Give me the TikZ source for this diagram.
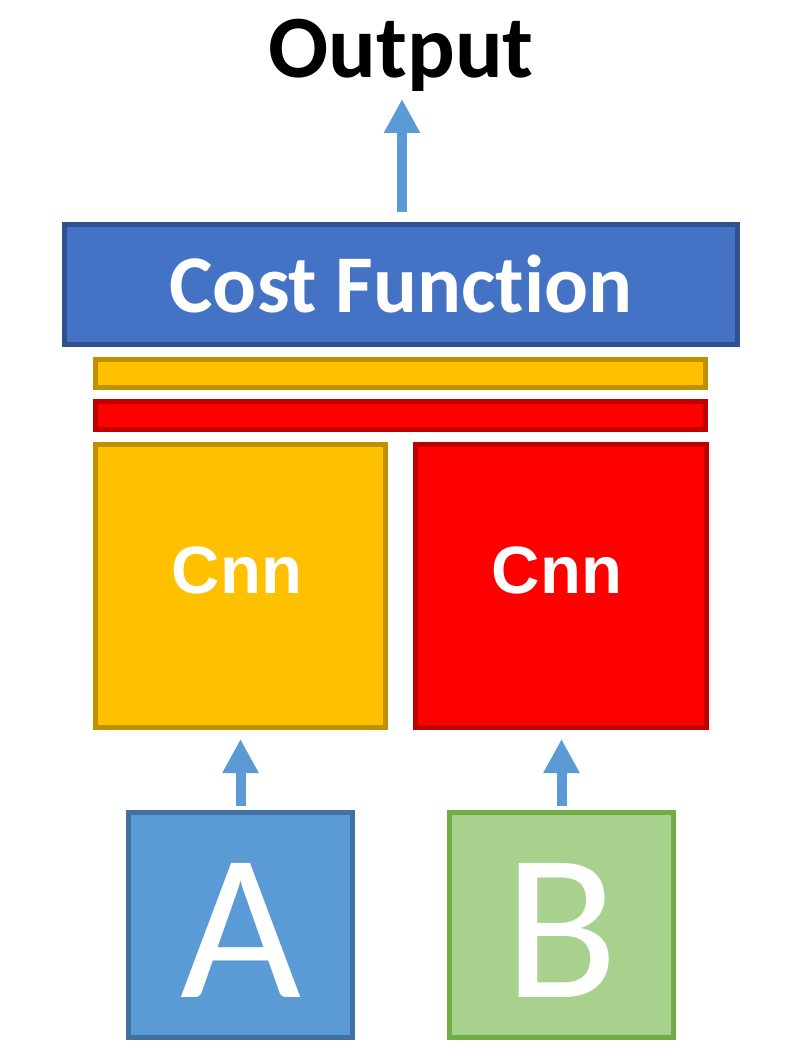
\documentclass[tikz,border=0pt]{standalone}
\usepackage{fontspec}
\setmainfont{Carlito}[Ligatures=NoCommon]
\newfontfamily\arialfont{Liberation Sans}
\usetikzlibrary{arrows.meta}
\definecolor{cfFill}{HTML}{4472C4}
\definecolor{cfLine}{HTML}{2F528F}
\definecolor{yFill}{HTML}{FFC000}
\definecolor{yLine}{HTML}{BF9000}
\definecolor{rFill}{HTML}{FF0000}
\definecolor{rLine}{HTML}{C00000}
\definecolor{aFill}{HTML}{5B9BD5}
\definecolor{aLine}{HTML}{41719C}
\definecolor{bFill}{HTML}{A9D18E}
\definecolor{bLine}{HTML}{70AD47}
\definecolor{arr}{HTML}{5B9BD5}
\tikzset{
  box/.style={rectangle, inner sep=0pt, line width=5pt},
  txt/.style={inner sep=0pt, anchor=base, text=white},
  uparrow/.style={draw=arr, line width=10pt, -{Triangle[length=34pt,width=34pt]}},
}
\begin{document}
\begin{tikzpicture}[x=1pt,y=-1pt]
\useasboundingbox (0,0) rectangle (800,1064);
% boxes
\node[box, draw=cfLine, fill=cfFill, minimum width=673pt, minimum height=120pt] (cost) at (401,284.5) {};
\node[box, draw=yLine, fill=yFill, minimum width=610pt, minimum height=28pt] (ybar) at (400.5,373.5) {};
\node[box, draw=rLine, fill=rFill, minimum width=610pt, minimum height=28pt] (rbar) at (400.5,415.5) {};
\node[box, draw=yLine, fill=yFill, minimum width=290pt, minimum height=283pt] (ycnn) at (240.5,586) {};
\node[box, draw=rLine, fill=rFill, minimum width=291pt, minimum height=283pt] (rcnn) at (561,586) {};
\node[box, draw=aLine, fill=aFill, minimum width=224pt, minimum height=225pt] (A) at (240.5,925) {};
\node[box, draw=bLine, fill=bFill, minimum width=224pt, minimum height=225pt] (B) at (561.5,925) {};
% texts
\node[inner sep=0pt, anchor=base] (out) at (401,78) {\fontsize{89}{89}\selectfont\bfseries Output};
\node[txt] (costtxt) at (401,312) {\fontsize{82}{82}\selectfont\bfseries Cost Func\mbox{t}ion};
\node[txt] (ycnntxt) at (237,593) {\arialfont\fontsize{67}{67}\selectfont\bfseries Cnn};
\node[txt] (rcnntxt) at (557,593) {\arialfont\fontsize{67}{67}\selectfont\bfseries Cnn};
\node[txt] (Atxt) at (240.5,997) {\fontsize{209}{209}\selectfont A};
\node[txt] (Btxt) at (561.5,997) {\fontsize{209}{209}\selectfont B};
% arrows
\coordinate (outtip) at (402,99);
\draw[uparrow] (cost.north -| outtip) ++(0,10pt) -- (outtip);
\draw[uparrow, shorten <=4pt, shorten >=9pt] (A.north) -- (ycnn.south);
\draw[uparrow, shorten <=4pt, shorten >=9pt] (B.north) -- (rcnn.south -| B.north);
\end{tikzpicture}
\end{document}
